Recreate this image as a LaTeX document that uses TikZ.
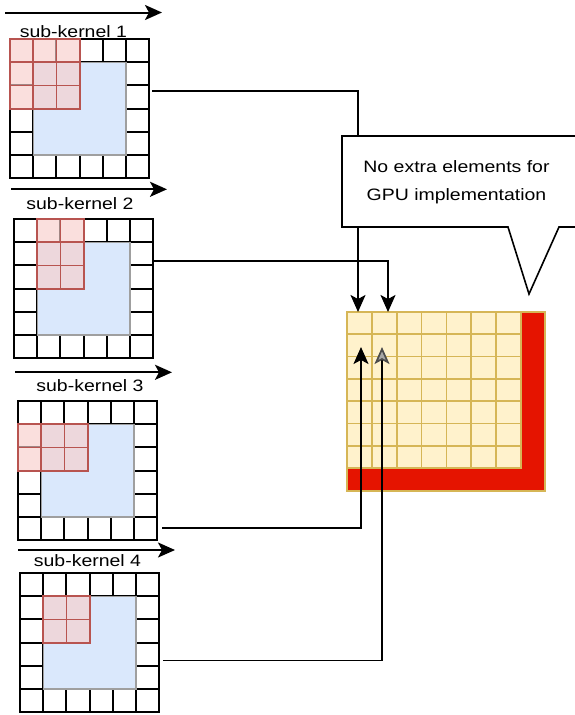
\documentclass[tikz,border=0pt]{standalone}
\usepackage{fontspec}
\newfontfamily\labelfont{Liberation Sans}[FakeStretch=1.18]
\usetikzlibrary{arrows.meta,calc}

\definecolor{innerblue}{HTML}{DAE8FC}
\definecolor{kpink}{HTML}{F8CECC}
\definecolor{kred}{HTML}{B85450}
\definecolor{yfill}{HTML}{FFF2CC}
\definecolor{ytan}{HTML}{D6B656}
\definecolor{lred}{HTML}{E51400}

\def\cs{23.2}
\def\cw{24.857}
\def\ch{22.286}

% #1 name, #2/#3 top-left corner, #4-#5 kernel columns, #6-#7 kernel rows
\newcommand\kgrid[7]{%
  \node[gridbox] (#1) at (#2,#3) {};
  \begin{scope}[shift={(#2,#3)}]
    \foreach \i in {0,...,5}{
      \draw[ringcell] (\i*\cs,0) rectangle ++(\cs,\cs);
      \draw[ringcell] (\i*\cs,5*\cs) rectangle ++(\cs,\cs);}
    \foreach \j in {1,...,4}{
      \draw[ringcell] (0,\j*\cs) rectangle ++(\cs,\cs);
      \draw[ringcell] (5*\cs,\j*\cs) rectangle ++(\cs,\cs);}
    \draw[innerbox] (\cs,\cs) rectangle (5*\cs,5*\cs);
    \foreach \i in {#4,...,#5}{\foreach \j in {#6,...,#7}{
      \draw[kcell] (\i*\cs,\j*\cs) rectangle ++(\cs,\cs);}}
  \end{scope}}

\begin{document}
\begin{tikzpicture}[x=1pt,y=-1pt,
  ringcell/.style={draw=black, fill=white, line width=2pt},
  innerbox/.style={draw=gray!75, fill=innerblue, line width=1.2pt},
  kcell/.style={draw=kred, fill=kpink, fill opacity=0.65, line width=1.8pt},
  ycell/.style={draw=ytan, fill=yfill, line width=1.7pt},
  gridbox/.style={rectangle, minimum width=139.2pt, minimum height=139.2pt,
    inner sep=0pt, outer sep=0pt, anchor=north west},
  headtip/.style={-{Stealth[length=17pt,width=15pt,inset=4pt]}},
  conn/.style={line width=1.7pt, headtip},
  sweep/.style={line width=2pt, headtip},
  klabel/.style={font=\labelfont\fontsize{16.5}{19}\selectfont, anchor=base, inner sep=0pt},
]
\useasboundingbox (0,0) rectangle (574,715);

% input grids with their sub-kernels
\kgrid{g1}{10}{39}{0}{2}{0}{2}
\kgrid{g2}{14}{219}{1}{2}{0}{2}
\kgrid{g3}{18}{401}{0}{2}{1}{2}
\kgrid{g4}{20}{573}{1}{2}{1}{2}

% labels and sweep arrows
\node[klabel] (l1) at (73.4,37.7) {sub-kernel 1};
\node[klabel] (l2) at (80,209) {sub-kernel 2};
\node[klabel] (l3) at (90,391) {sub-kernel 3};
\node[klabel] (l4) at (87.5,566) {sub-kernel 4};
\coordinate (s1a) at (5,12.5);   \coordinate (s1b) at (162,12.5);
\coordinate (s2a) at (11,189.3); \coordinate (s2b) at (167,189.3);
\coordinate (s3a) at (15,372.3); \coordinate (s3b) at (172,372.3);
\coordinate (s4a) at (18,550);   \coordinate (s4b) at (175,550);
\draw[sweep] (s1a) -- (s1b);
\draw[sweep] (s2a) -- (s2b);
\draw[sweep] (s3a) -- (s3b);
\draw[sweep] (s4a) -- (s4b);

% output grid
\node[draw=ytan, fill=lred, line width=1.7pt, minimum width=198pt, minimum height=179pt,
  anchor=north west, inner sep=0pt, outer sep=0pt] (out) at (347,312) {};
\foreach \i in {0,...,6}{\foreach \j in {0,...,6}{
  \draw[ycell] (347+\i*\cw,312+\j*\ch) rectangle ++(\cw,\ch);}}

% connectors from the sub-kernel grids
\draw[conn] ([xshift=3pt,yshift=17.6pt]g1.east) -| ([xshift=11pt]out.north west);
\draw[conn] ([xshift=0pt,yshift=27.6pt]g2.east) -| ([xshift=41pt]out.north west);
\draw[conn] ([xshift=5pt,yshift=-57.5pt]g3.east) -| ([xshift=14pt,yshift=-35pt]out.north west);
\draw[line width=1.7pt, -{Stealth[length=17pt,width=15pt,inset=4pt,fill=gray!70,color=gray!60!black]}]
  ([xshift=4pt,yshift=-18pt]g4.east) -| ([xshift=35pt,yshift=-35pt]out.north west);

% callout
\draw[fill=white, line width=1.6pt] (342,136) -- (576,136) -- (576,227) -- (559,227)
  -- (529,294) -- (508,227) -- (342,227) -- cycle;
\node[font=\labelfont\fontsize{16.5}{28}\selectfont, align=center, inner sep=0pt] (note)
  at (456.5,182.5) {No extra elements for\\GPU implementation};
\end{tikzpicture}
\end{document}
